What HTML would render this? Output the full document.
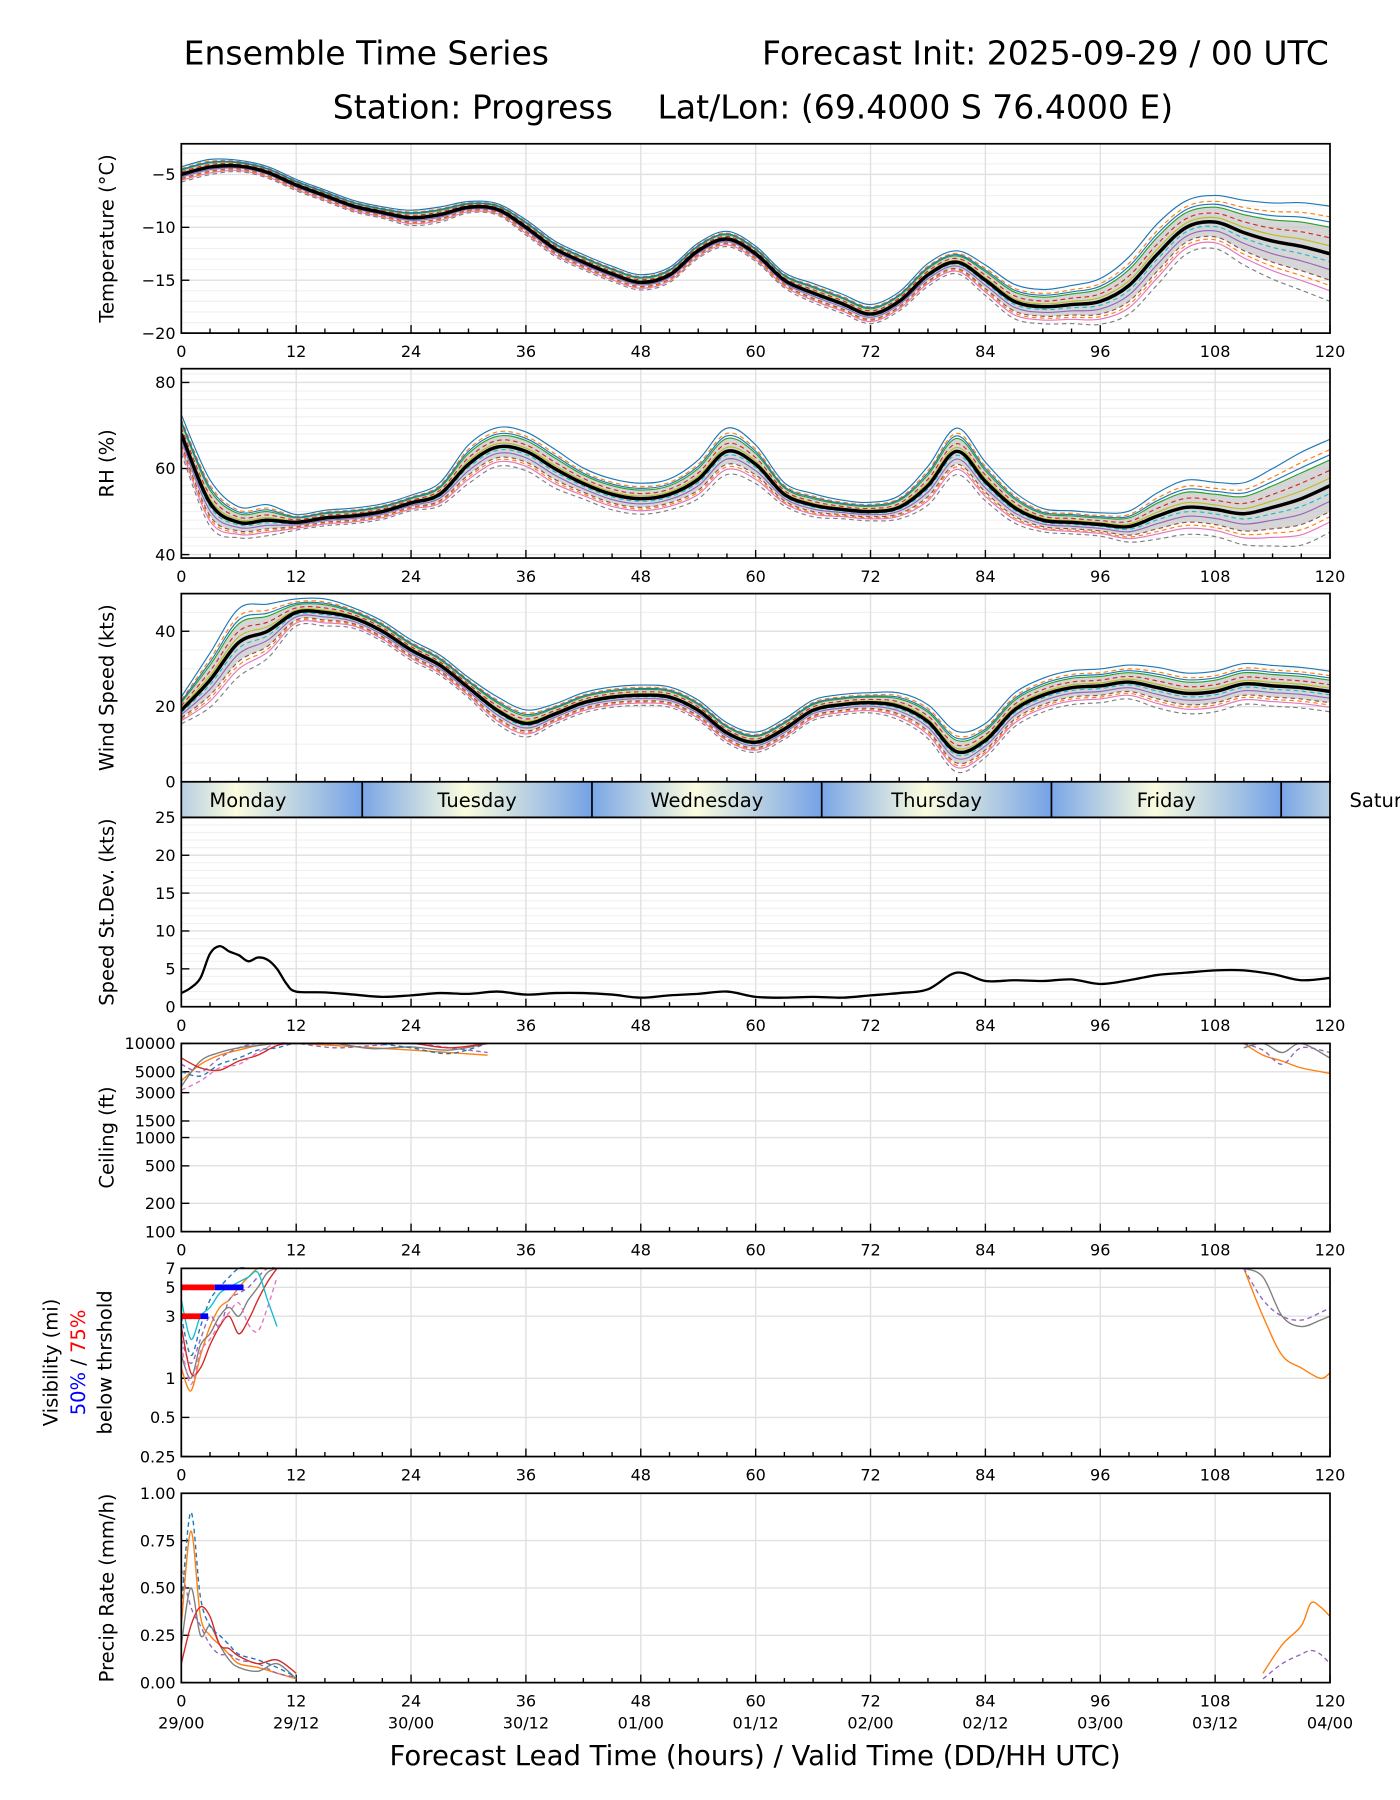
<!DOCTYPE html>
<html><head><meta charset="utf-8"><style>
html,body{margin:0;padding:0;background:#fff}
svg{display:block;font-family:"DejaVu Sans","Liberation Sans",sans-serif}
</style></head><body>
<svg id="c" width="1400" height="1800" viewBox="0 0 1220 1568" xmlns="http://www.w3.org/2000/svg">
<defs>
<linearGradient id="dayg" x1="0" x2="1" y1="0" y2="0">
<stop offset="0" stop-color="#7aa6e6"/><stop offset="0.45" stop-color="#fcfddf"/><stop offset="1" stop-color="#74a2e6"/>
</linearGradient>
<clipPath id="pc"><rect x="158" y="0" width="1001" height="1568"/></clipPath>
</defs>
<text x="160" y="56" font-size="28.8">Ensemble Time Series</text>
<text x="1158" y="56" font-size="28.8" text-anchor="end">Forecast Init: 2025-09-29 / 00 UTC</text>
<text x="290" y="103" font-size="28.8">Station: Progress</text>
<text x="573" y="103" font-size="28.8">Lat/Lon: (69.4000 S 76.4000 E)</text>
<g id="g"></g>
</svg>
<script>
// ---- data ----
const hours3 = [0,3,6,9,12,15,18,21,24,27,30,33,36,39,42,45,48,51,54,57,60,63,66,69,72,75,78,81,84,87,90,93,96,99,102,105,108,111,114,117,120];
const tempMean = [-5,-4.3,-4.2,-4.8,-6,-7,-8,-8.6,-9.1,-8.8,-8.1,-8.3,-10,-12,-13.3,-14.4,-15.2,-14.5,-12.2,-11.1,-12.5,-15,-16.2,-17.2,-18.2,-17,-14.5,-13.3,-15,-17,-17.5,-17.3,-17,-15.5,-12.5,-10,-9.5,-10.5,-11.3,-11.8,-12.5];
const tempSpread = [0.4,0.4,0.3,0.3,0.3,0.3,0.3,0.3,0.4,0.4,0.3,0.3,0.4,0.4,0.4,0.4,0.4,0.4,0.4,0.4,0.4,0.4,0.5,0.5,0.5,0.5,0.6,0.6,0.8,0.9,0.9,1,1.2,1.5,1.6,1.4,1.4,1.7,2,2.3,2.5];
const rhMean = [68,52,47.5,48,47.5,48.5,49,50,52,54,61,65,64,60,56.5,54,53,54,57.5,64,61,54,51.5,50.5,50,51,56,64,57,51,48,47.5,47,46.5,49,51,50.5,49.5,51,53,56];
const rhSpread = [2.5,3,2,2,1,1,1,1,1,1.5,2.5,2.5,2.5,2.5,2,2,2,2,2.5,3,2.5,1.5,1.5,1.2,1.2,1.5,2.5,3,2.5,2,1.5,1.5,1.5,2,3,3.5,3.5,4,5,6,6];
const windMean = [19,27,37,40,45,45,43.5,40,35,31,25,19,15.5,18,21,22.5,23,22.5,19,13,10.5,14,19,20.5,21,20,16,8,11,19,23,25,25.5,26.5,25,23.5,24,26,25.5,25,24];
const windSpread = [2,4,5,4,2,2,1.5,1.5,1.5,1.5,1.5,2,2,1.5,1.5,1.5,1.5,1.5,1.5,1.5,1.5,1.5,1.5,1.5,1.5,2,2.5,3,2.5,2.5,2.5,2.5,2.5,2.5,3,3,3,3,3,3,3];
const sdHours = [0,1,2,3,4,5,6,7,8,9,10,11,12,15,18,21,24,27,30,33,36,39,42,45,48,51,54,57,60,63,66,69,72,75,78,81,84,87,90,93,96,99,102,105,108,111,114,117,120];
const sdValues = [1.8,2.5,3.8,7,8,7.3,6.8,6,6.5,6.2,5,3,2,1.9,1.6,1.3,1.5,1.8,1.7,2,1.6,1.8,1.8,1.6,1.2,1.5,1.7,2,1.3,1.2,1.3,1.2,1.5,1.8,2.3,4.5,3.4,3.5,3.4,3.6,3,3.5,4.2,4.5,4.8,4.8,4.3,3.5,3.8];
const ceilHours = [0,2,4,6,8,10,12,16,20,24,28,32];
const ceilMembers = [[4000,6000,7500,8500,9500,10000,10000,9500,9000,8500,8000,7500],[6000,5000,7000,9000,10000,10000,10000,9000,9500,10000,9000,8000],[3500,6500,8000,9000,9500,10000,10000,10000,8800,9200,8500,10000],[5000,4500,6000,7000,8500,9000,10000,10000,10000,9000,7800,10000],[7000,5500,5200,6500,7500,9500,10000,10000,10000,10000,9000,10000],[3200,4000,5500,6000,8000,10000,10000,10000,10000,10000,10000,10000]];
const ceilEndHours = [111,113,115,117,120];
const ceilEnd = [[10000,7500,6500,5500,4800],[10000,8500,6000,9000,8000],[9000,10000,8000,10000,7000]];
const visHours = [0,1,2,3,4,5,6,7,8,9,10];
const visMembers = [[1.2,0.8,1.5,2.5,3.5,4,5,6,7,7,7],[2,1.3,2,3,2.5,4,4.5,5,6,7,7],[1.5,1,1.8,2.2,3,3.5,3,4,5,6.5,7],[3,1.5,2.5,4,5,6,7,7,7,7,7],[2.5,1.1,1.2,1.8,2.5,3,2.2,2.8,4,5.5,7],[1.8,0.9,1.6,2,2.6,3.2,3.8,2.6,2.3,3.5,6],[4,2,3,3.5,4.5,5,5.5,6,6.5,4,2.5]];
const visEndHours = [111,113,115,117,119,120];
const visEnd = [[7,3,1.5,1.2,1,1.1],[7,4,3,2.8,3.2,3.5],[7,6,3,2.5,2.8,3]];
const precHours = [0,1,2,3,4,5,6,8,10,12];
const precMembers = [[0.3,0.8,0.35,0.25,0.2,0.15,0.1,0.08,0.05,0.02],[0.6,0.4,0.3,0.2,0.15,0.15,0.12,0.1,0.05,0.03],[0.2,0.5,0.25,0.3,0.2,0.12,0.08,0.06,0.1,0.02],[0.4,0.9,0.45,0.3,0.25,0.2,0.15,0.12,0.08,0.03],[0.1,0.3,0.4,0.35,0.2,0.18,0.14,0.1,0.12,0.05]];
const precEndHours = [113,115,117,118,119,120];
const precEnd = [[0.05,0.2,0.3,0.42,0.4,0.35],[0.02,0.1,0.15,0.17,0.15,0.1]];
const xTicks = [0,12,24,36,48,60,72,84,96,108,120];
const dateLabels = ["29/00","29/12","30/00","30/12","01/00","01/12","02/00","02/12","03/00","03/12","04/00"];
const dayNames = ["Monday","Tuesday","Wednesday","Thursday","Friday","Saturday"];
const memberColors = ["#1f77b4","#ff7f0e","#2ca02c","#d62728","#9467bd","#8c564b","#e377c2","#7f7f7f","#bcbd22","#17becf"];
// ---- helpers ----
const NS="http://www.w3.org/2000/svg";
const G=document.getElementById('g');
const X0=158,X1=1159;
const xs=h=>X0+(X1-X0)*h/120;
function mk(tag,attrs,parent){const e=document.createElementNS(NS,tag);for(const k in attrs)e.setAttribute(k,attrs[k]);(parent||G).appendChild(e);return e;}
function linY(top,bot,lo,hi){return v=>bot-(v-lo)/(hi-lo)*(bot-top);}
function logY(top,bot,lo,hi){return v=>bot-(Math.log(v)-Math.log(lo))/(Math.log(hi)-Math.log(lo))*(bot-top);}
function pts(hs,vs,ys){return hs.map((h,i)=>[xs(h),ys(vs[i])]);}
function smooth(p,move){let d=(move===false?'L':'M')+p[0][0].toFixed(1)+' '+p[0][1].toFixed(1);
  for(let i=0;i<p.length-1;i++){const a=p[i-1]||p[i],b=p[i],c=p[i+1],e=p[i+2]||c;
    const c1=[b[0]+(c[0]-a[0])/6,b[1]+(c[1]-a[1])/6],c2=[c[0]-(e[0]-b[0])/6,c[1]-(e[1]-b[1])/6];
    d+=` C${c1[0].toFixed(1)} ${c1[1].toFixed(1)} ${c2[0].toFixed(1)} ${c2[1].toFixed(1)} ${c[0].toFixed(1)} ${c[1].toFixed(1)}`;}
  return d;}
function pathD(hs,vs,ys){return smooth(pts(hs,vs,ys));}
function panel(name,top,bot,ys,ticks,labels,minor,ylabel,noX){
  const g=mk('g',{});
  
  
  (minor||[]).forEach(v=>mk('line',{x1:X0,x2:X1,y1:ys(v),y2:ys(v),stroke:'#f0f0f0','stroke-width':1},g));
  for(let h=0;h<=120;h+=12)mk('line',{x1:xs(h),x2:xs(h),y1:top,y2:bot,stroke:'#e0e0e0','stroke-width':1.2},g);
  ticks.forEach((v,i)=>{const y=ys(v);mk('line',{x1:X0,x2:X1,y1:y,y2:y,stroke:'#e0e0e0','stroke-width':1.2},g);
    mk('line',{x1:X0,x2:X0+7,y1:y,y2:y,stroke:'#000','stroke-width':1.2},g);
    const t=mk('text',{x:X0-5,y:y+5,'font-size':14,'text-anchor':'end'},g);t.textContent=labels[i];
    
    });
  for(let h=0;h<=120;h+=3){mk('line',{x1:xs(h),x2:xs(h),y1:bot,y2:bot-(h%12?4:7),stroke:'#000','stroke-width':1.2},g);}
  if(!noX)xTicks.forEach(h=>{const t=mk('text',{x:xs(h),y:bot+21,'font-size':14,'text-anchor':'middle'},g);t.textContent=h;
    
    });
  if(ylabel){const cy=(top+bot)/2;const t=mk('text',{x:0,y:0,'font-size':17,'text-anchor':'middle',transform:`translate(99,${cy}) rotate(-90)`},g);t.textContent=ylabel;
    
    }
  return g;
}
function frame(top,bot){const r=mk('rect',{x:X0,y:top,width:X1-X0,height:bot-top,fill:'none',stroke:'#000','stroke-width':1.5});
  
  }
function ensemble(name,ys,mean,spread){
  const g=mk('g',{'clip-path':'url(#pc)'});
  
  
  const up=mean.map((m,i)=>m+spread[i]),lo=mean.map((m,i)=>m-spread[i]);
  const pu=pts(hours3,up,ys),pl=pts(hours3,lo,ys).reverse();
  const band=mk('path',{d:smooth(pu)+' '+smooth(pl,false)+'Z',fill:'#c8c8c8',opacity:0.75},g);
  
  
  const facs=[1.8,1.4,1.0,0.6,-0.6,-1.0,-1.4,-1.8,0.3,-0.3,1.2,-1.2];
  facs.forEach((f,k)=>{const vs=mean.map((m,i)=>m+spread[i]*f);
    const p=mk('path',{d:pathD(hours3,vs,ys),fill:'none',stroke:memberColors[k%10],'stroke-width':1,'stroke-dasharray':k%2?'4 3':'none'},g);
    
    });
  const m=mk('path',{d:pathD(hours3,mean,ys),fill:'none',stroke:'#000','stroke-width':3},g);
  
  
}
function members(name,hs,arr,ys){
  const g=mk('g',{'clip-path':'url(#pc)'});
  
  
  arr.forEach((vs,k)=>{const p=mk('path',{d:pathD(hs,vs,ys),fill:'none',stroke:memberColors[(k*3+1)%10],'stroke-width':1.2,'stroke-dasharray':k%2?'4 3':'none'},g);
    
    });
}
function range(a,b,s){const r=[];for(let v=a;v<=b+1e-9;v+=s)r.push(+v.toFixed(3));return r;}
// Temperature
let ys=linY(125,290,-20,-2.1);
panel('temperature',125,290,ys,[-20,-15,-10,-5],['−20','−15','−10','−5'],range(-19,-3,1),'Temperature (°C)');
ensemble('temperature',ys,tempMean,tempSpread);frame(125,290);
// RH
ys=linY(321,486,39.2,83.2);
panel('rh',321,486,ys,[40,60,80],['40','60','80'],range(42,82,2),'RH (%)');
ensemble('rh',ys,rhMean,rhSpread);frame(321,486);
// Wind
ys=linY(517,681,0,50);
panel('wind',517,681,ys,[0,20,40],['0','20','40'],range(5,45,5),'Wind Speed (kts)',true);
ensemble('wind',ys,windMean,windSpread);frame(517,681);
// day band
{const g=mk('g',{});
 dayNames.forEach((d,i)=>{const s=-5.1+24*i,e=s+24;const x0=xs(s),x1=xs(e);
  const r=mk('rect',{x:x0,y:681,width:x1-x0,height:31,fill:'url(#dayg)','clip-path':'url(#pc)'},g);
  
  
  if(i>0&&s<120)mk('line',{x1:x0,x2:x0,y1:681,y2:712,stroke:'#000','stroke-width':1.5},g);
  const t=mk('text',{x:(x0+x1)/2,y:703,'font-size':17,'text-anchor':i==5?'start':'middle'},g);
  if(i==5)t.setAttribute('x',1176);
  if(i==0)t.setAttribute('x',216);
  t.textContent=d;
  
  });
 mk('rect',{x:X0,y:681,width:X1-X0,height:31,fill:'none',stroke:'#000','stroke-width':1.5},g);}
// StDev
ys=linY(712,877,0,25);
panel('stdev',712,877,ys,[0,5,10,15,20,25],['0','5','10','15','20','25'],range(1,24,1),'Speed St.Dev. (kts)');
{const p=mk('path',{d:pathD(sdHours,sdValues,ys),fill:'none',stroke:'#000','stroke-width':2});}
frame(712,877);
// Ceiling
ys=logY(909,1073,100,10000);
panel('ceiling',909,1073,ys,[100,200,500,1000,1500,3000,5000,10000],['100','200','500','1000','1500','3000','5000','10000'],[],'Ceiling (ft)');
members('ceiling-members',ceilHours,ceilMembers,ys);members('ceiling-members-end',ceilEndHours,ceilEnd,ys);frame(909,1073);
// Visibility
ys=logY(1105,1269,0.25,7);
panel('visibility',1105,1269,ys,[0.25,0.5,1,3,5,7],['0.25','0.5','1','3','5','7'],[],null);
members('visibility-members',visHours,visMembers,ys);members('visibility-members-end',visEndHours,visEnd,ys);
mk('line',{x1:xs(0),x2:xs(3.5),y1:ys(5),y2:ys(5),stroke:'#f00','stroke-width':5});
mk('line',{x1:xs(3.5),x2:xs(6.5),y1:ys(5),y2:ys(5),stroke:'#00f','stroke-width':5});
mk('line',{x1:xs(0),x2:xs(2),y1:ys(3),y2:ys(3),stroke:'#f00','stroke-width':5});
mk('line',{x1:xs(2),x2:xs(2.8),y1:ys(3),y2:ys(3),stroke:'#00f','stroke-width':5});
frame(1105,1269);
{const t=mk('text',{'font-size':17,'text-anchor':'middle',transform:'translate(50,1187) rotate(-90)'});t.textContent='Visibility (mi)';
 const t2=mk('text',{'font-size':17,'text-anchor':'middle',transform:'translate(74,1187) rotate(-90)'});t2.innerHTML='<tspan fill="#00f">50%</tspan> / <tspan fill="#f00">75%</tspan>';
 const t3=mk('text',{'font-size':17,'text-anchor':'middle',transform:'translate(97,1187) rotate(-90)'});t3.textContent='below thrshold';}
// Precip
ys=linY(1301,1466,0,1);
panel('precip',1301,1466,ys,[0,0.25,0.5,0.75,1],['0.00','0.25','0.50','0.75','1.00'],[],'Precip Rate (mm/h)');
members('precip-members',precHours,precMembers,ys);members('precip-members-end',precEndHours,precEnd,ys);frame(1301,1466);
dateLabels.forEach((d,i)=>{const t=mk('text',{x:xs(xTicks[i]),y:1506,'font-size':14,'text-anchor':'middle'});t.textContent=d;});
{const t=mk('text',{x:658,y:1538,'font-size':24,'text-anchor':'middle'});t.textContent='Forecast Lead Time (hours) / Valid Time (DD/HH UTC)';}
</script>
</body></html>
